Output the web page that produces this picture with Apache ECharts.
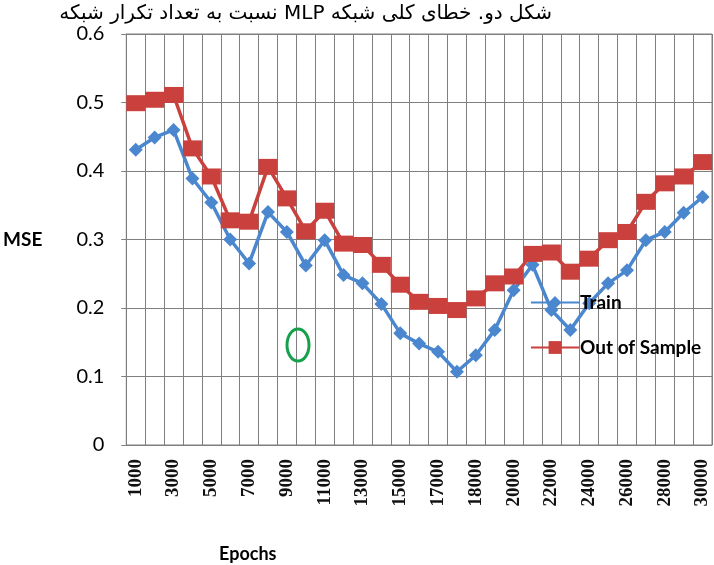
<!DOCTYPE html>
<html>
<head>
<meta charset="utf-8">
<script src="https://cdn.jsdelivr.net/npm/echarts@6/dist/echarts.min.js"></script>
<style>
html, body { margin: 0; padding: 0; background: #fff; }
#chart { width: 714px; height: 565px; }
</style>
</head>
<body>
<div id="chart"></div>
<script>
// epochs (x categories)
var epochs = ['1000', '2000', '3000', '4000', '5000', '6000', '7000', '8000', '9000', '10000',
    '11000', '12000', '13000', '14000', '15000', '16000', '17000', '17500', '18000', '19000',
    '20000', '21000', '22000', '23000', '24000', '25000', '26000', '27000', '28000', '29000', '30000'];

// MSE values
var train = [0.431, 0.449, 0.460, 0.389, 0.354, 0.300, 0.265, 0.340, 0.311, 0.262,
    0.299, 0.248, 0.236, 0.206, 0.163, 0.148, 0.136, 0.107, 0.131, 0.168,
    0.226, 0.263, 0.197, 0.168, 0.207, 0.236, 0.255, 0.299, 0.311, 0.339, 0.362];
var outOfSample = [0.499, 0.504, 0.511, 0.433, 0.392, 0.328, 0.326, 0.406, 0.360, 0.312,
    0.342, 0.294, 0.292, 0.263, 0.234, 0.209, 0.203, 0.197, 0.214, 0.236,
    0.246, 0.279, 0.281, 0.253, 0.272, 0.299, 0.311, 0.355, 0.382, 0.392, 0.413];

var seriesNames = ['Train', 'Out of Sample'];
var chartTitle = 'شکل دو. خطای کلی شبکه MLP نسبت به تعداد تکرار شبکه';

var gridColor = '#7f7f7f';
var sans = 'Lato, "Open Sans", sans-serif';

var chart = echarts.init(document.getElementById('chart'));
chart.setOption({
    animation: false,
    title: [{
        // force right-to-left ordering of the Persian caption
        text: '\u202B' + chartTitle + '\u202C',
        right: 157,
        top: -1,
        textStyle: {
            fontFamily: '"DejaVu Sans", sans-serif',
            fontSize: 20,
            fontWeight: 'normal',
            color: '#000'
        }
    }, {
        text: 'Epochs',
        left: 214,
        top: 540,
        textStyle: {
            fontFamily: sans,
            fontSize: 18,
            fontWeight: 'bold',
            color: '#000'
        }
    }],
    grid: {
        left: 124,
        right: 2,
        top: 34,
        bottom: 120,
        show: true,
        borderColor: gridColor,
        borderWidth: 1
    },
    legend: {
        orient: 'vertical',
        left: 525,
        top: 288,
        itemWidth: 48,
        itemHeight: 16,
        itemGap: 26,
        data: seriesNames,
        textStyle: {
            fontFamily: sans,
            fontSize: 19,
            fontWeight: 'bold',
            color: '#000',
            padding: [0, 0, 0, -4]
        }
    },
    xAxis: {
        type: 'category',
        data: epochs,
        boundaryGap: true,
        axisLine: { lineStyle: { color: gridColor, width: 1 } },
        axisTick: { interval: 0, length: 5, lineStyle: { color: gridColor } },
        axisLabel: {
            interval: 1,
            rotate: 90,
            margin: 14,
            fontFamily: '"Liberation Serif", serif',
            fontSize: 19,
            fontWeight: 'bold',
            color: '#111'
        },
        splitLine: { show: true, interval: 0, lineStyle: { color: gridColor, width: 1 } }
    },
    yAxis: {
        type: 'value',
        min: 0,
        max: 0.6,
        interval: 0.1,
        name: 'MSE',
        nameLocation: 'middle',
        nameRotate: 0,
        nameGap: 84,
        nameTextStyle: {
            fontFamily: sans,
            fontSize: 19,
            fontWeight: 'bold',
            color: '#000',
            align: 'right'
        },
        axisLine: { show: true, lineStyle: { color: gridColor, width: 1 } },
        axisTick: { show: true, length: 5, lineStyle: { color: gridColor } },
        axisLabel: {
            margin: 22,
            fontFamily: sans,
            fontSize: 20,
            color: '#000'
        },
        splitLine: { show: true, lineStyle: { color: gridColor, width: 1 } }
    },
    graphic: [{
        // green annotation mark inside the plot
        type: 'ellipse',
        shape: { cx: 298, cy: 345, rx: 11, ry: 16 },
        style: { fill: 'none', stroke: '#16a04c', lineWidth: 3 },
        z: 10
    }],
    series: [{
        name: seriesNames[0],
        type: 'line',
        data: train,
        symbol: 'diamond',
        symbolSize: 14,
        showAllSymbol: true,
        lineStyle: { color: '#4a87cf', width: 3.5 },
        itemStyle: { color: '#4a87cf' }
    }, {
        name: seriesNames[1],
        type: 'line',
        data: outOfSample,
        symbol: 'rect',
        symbolSize: [19, 16],
        showAllSymbol: true,
        lineStyle: { color: '#c9403d', width: 3.5 },
        itemStyle: { color: '#c9403d' }
    }]
});
</script>
</body>
</html>
